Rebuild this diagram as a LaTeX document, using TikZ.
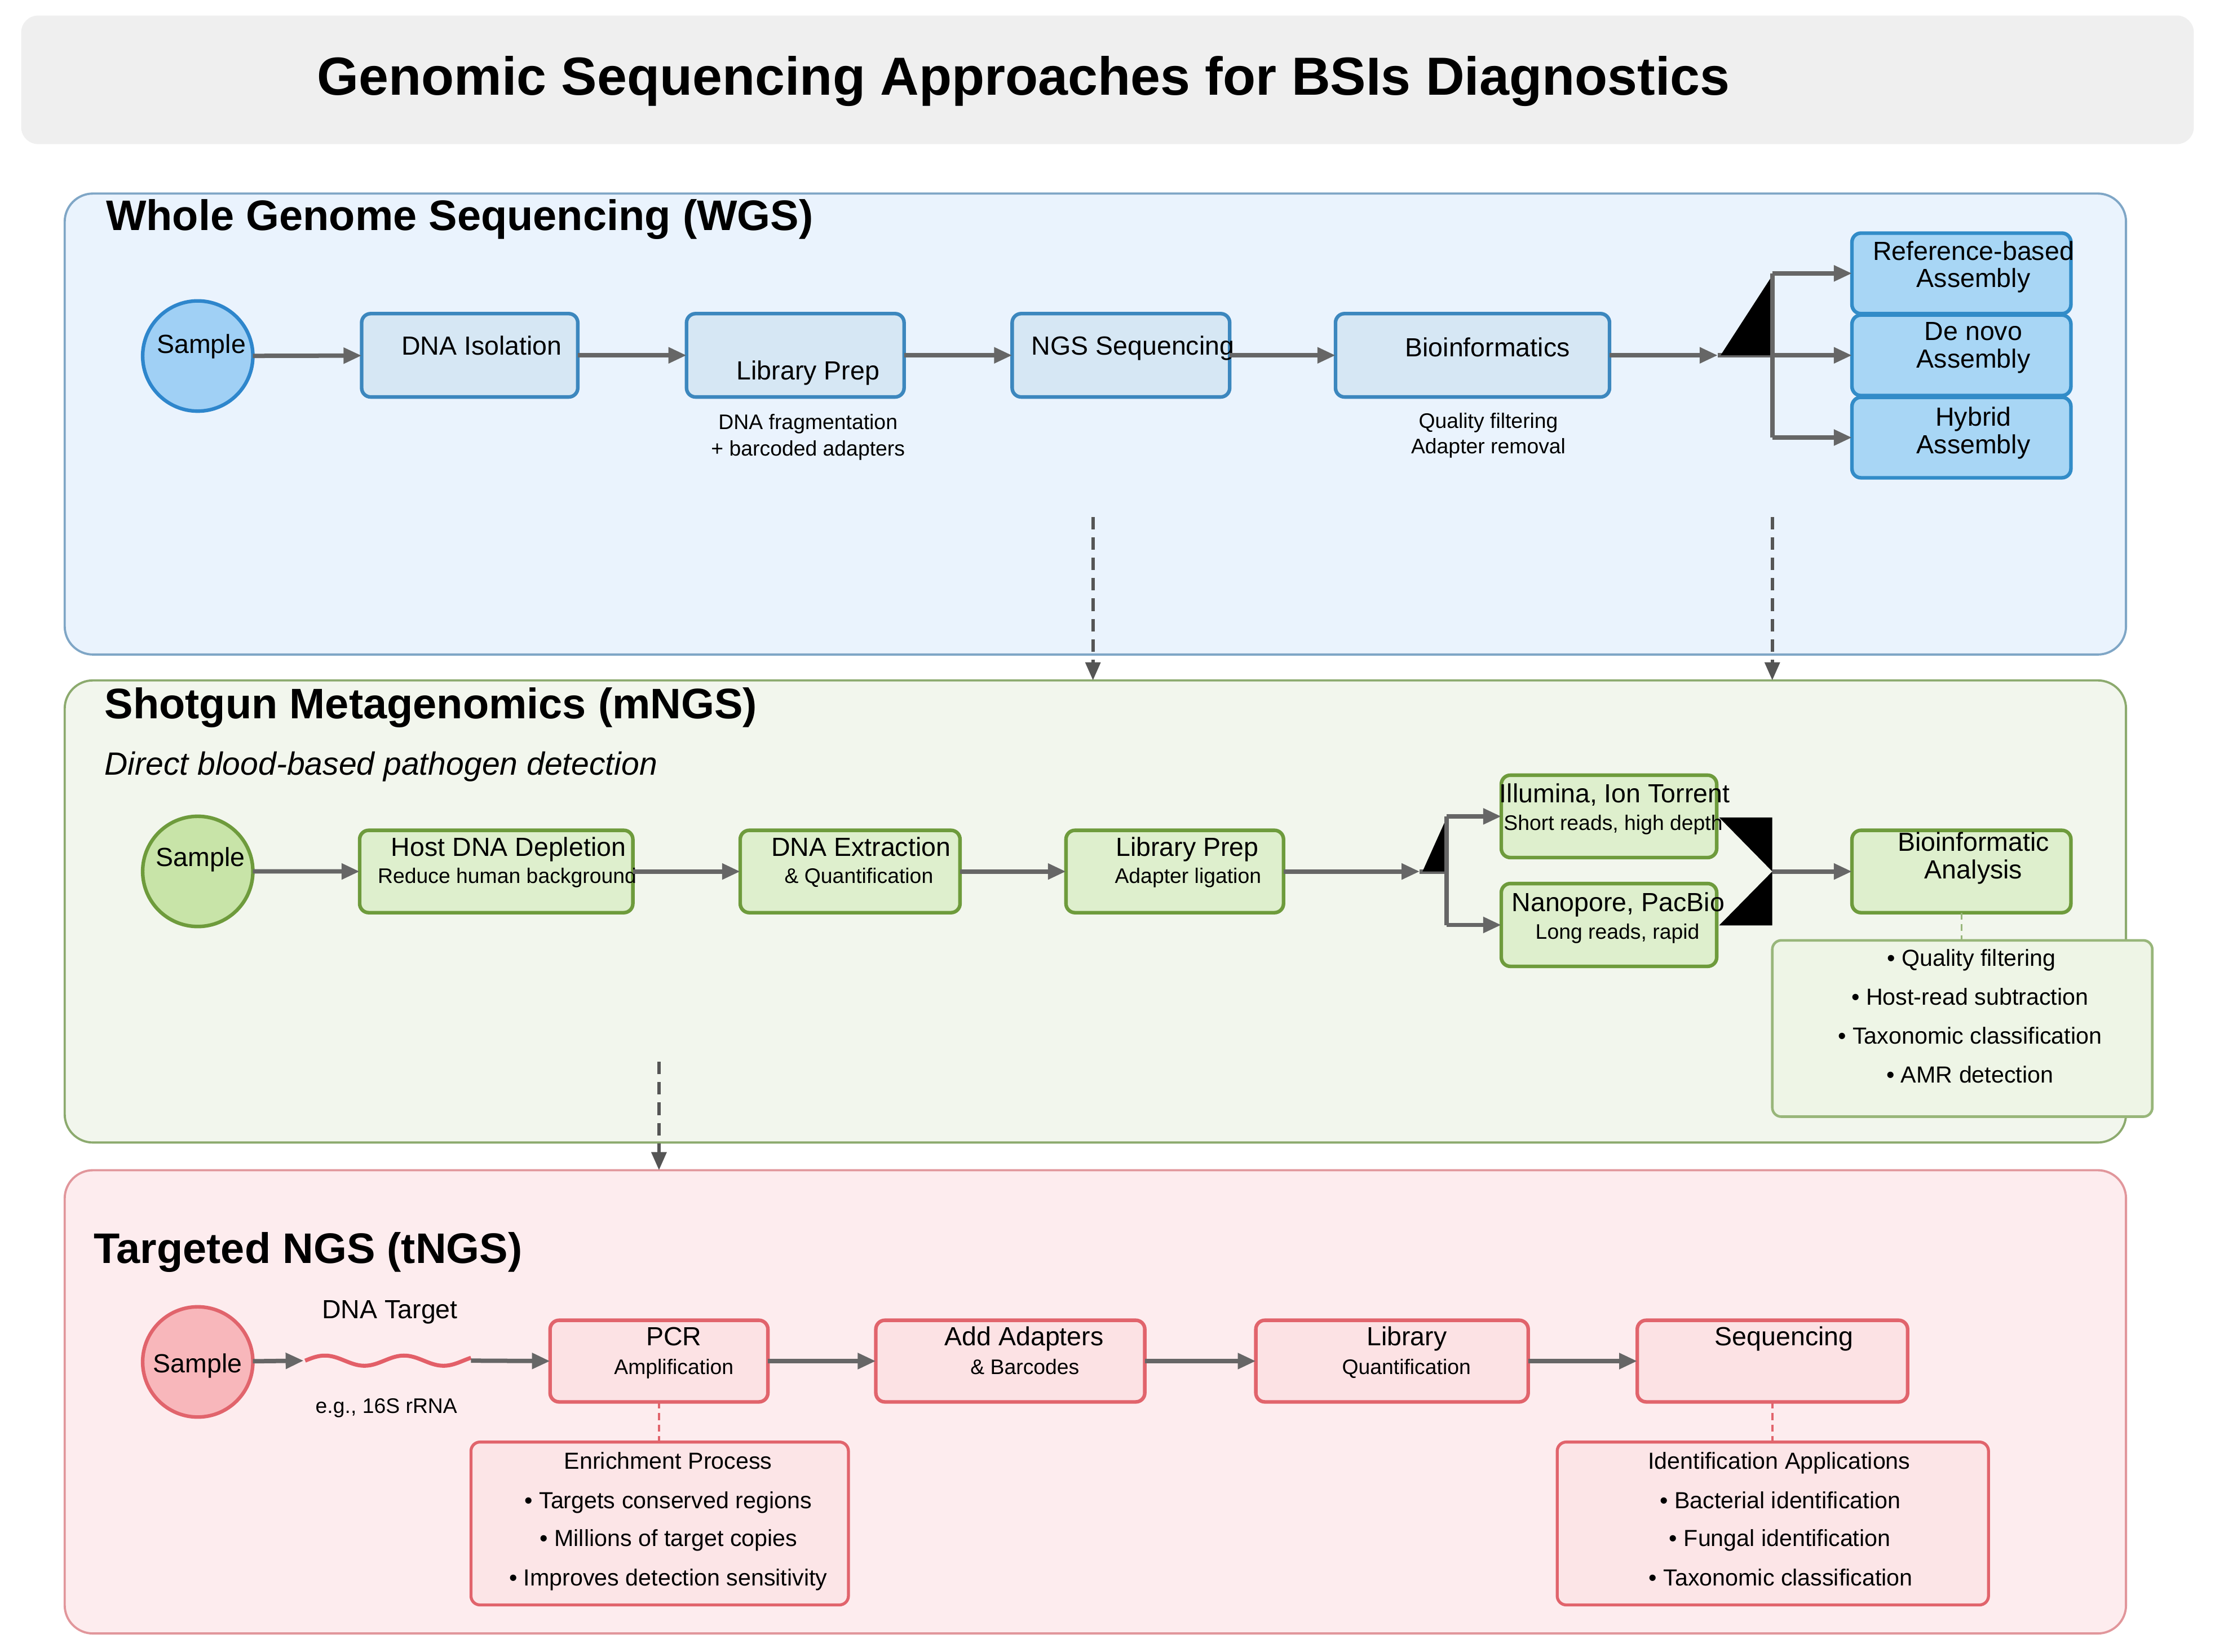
\documentclass[tikz,border=0pt]{standalone}
\usepackage{fontspec}
\setmainfont{Liberation Sans}
\usetikzlibrary{arrows.meta}
\definecolor{tbarfill}{HTML}{EFEFEF}
\definecolor{wgsfill}{HTML}{EAF3FD}
\definecolor{wgsline}{HTML}{7FA6C6}
\definecolor{bboxfill}{HTML}{D6E7F4}
\definecolor{bboxline}{HTML}{3C87BE}
\definecolor{asmfill}{HTML}{A8D6F5}
\definecolor{asmline}{HTML}{328CC8}
\definecolor{bsampfill}{HTML}{A0D0F5}
\definecolor{bsampline}{HTML}{2E86CC}
\definecolor{mngsfill}{HTML}{F2F6ED}
\definecolor{mngsline}{HTML}{8CAA6E}
\definecolor{gboxfill}{HTML}{DEEFCD}
\definecolor{gboxline}{HTML}{6E9B3C}
\definecolor{gsampfill}{HTML}{C8E4A8}
\definecolor{gbulfill}{HTML}{EEF5E6}
\definecolor{gbulline}{HTML}{98B67A}
\definecolor{tngsfill}{HTML}{FDECEE}
\definecolor{tngsline}{HTML}{E1969B}
\definecolor{rboxfill}{HTML}{FCE2E4}
\definecolor{rboxline}{HTML}{E1646C}
\definecolor{rsampfill}{HTML}{F8B7BB}
\definecolor{rinfofill}{HTML}{FCE5E7}
\definecolor{arrgray}{HTML}{666666}
\definecolor{dashgray}{HTML}{555555}
\definecolor{wavered}{HTML}{E35F68}
\tikzset{
  sz/.style 2 args={minimum width=#1*0.025cm, minimum height=#2*0.025cm},
  panel/.style={draw, line width=1.1pt, rounded corners=0.5cm, inner sep=0pt, outer sep=0pt},
  pbox/.style={draw, line width=1.8pt, rounded corners=0.16cm, inner sep=0pt, outer sep=0pt},
  circ/.style={circle, draw, line width=1.8pt, minimum size=1.95cm, inner sep=0pt, outer sep=0pt},
  tmain/.style={anchor=base, inner sep=0pt, font=\fontsize{13.2}{15}\selectfont},
  tsmall/.style={anchor=base, inner sep=0pt, font=\fontsize{10.6}{12}\selectfont},
  tbul/.style={anchor=base, inner sep=0pt, font=\fontsize{11.7}{14}\selectfont},
  ttl/.style={anchor=base west, inner sep=0pt, font=\fontsize{21.5}{26}\selectfont\bfseries},
  arr/.style={draw=arrgray, line width=2.2pt, -{Triangle[length=0.32cm,width=0.27cm]}},
  link/.style={draw=arrgray, line width=2.2pt},
  dasharr/.style={draw=dashgray, line width=1.8pt, dash pattern=on 0.22cm off 0.14cm, -{Triangle[length=0.32cm,width=0.26cm]}},
  thindash/.style={line width=0.9pt, dash pattern=on 0.12cm off 0.08cm},
}
\begin{document}
\begin{tikzpicture}[x=0.025cm,y=-0.025cm]
\path[use as bounding box, fill=white] (0,0) rectangle (1568,1169.3);

% ---------- title ----------
\node[fill=tbarfill, rounded corners=0.3cm, sz={1538}{91}, inner sep=0pt] (tbar) at (784,56.5) {};
\node[anchor=base, inner sep=0pt, font=\fontsize{27}{32}\selectfont\bfseries] (title) at (724.5,67.4) {Genomic Sequencing Approaches for BSIs Diagnostics};

% ---------- panels ----------
\node[panel, fill=wgsfill, draw=wgsline, sz={1459.2}{326.3}] (wgs) at (775.4,300.15) {};
\node[panel, fill=mngsfill, draw=mngsline, sz={1459.2}{327.1}] (mngs) at (775.4,645.15) {};
\node[panel, fill=tngsfill, draw=tngsline, sz={1459.2}{327.9}] (tngs) at (775.4,992.25) {};

\node[ttl] (wgstitle) at (74.8,163) {Whole Genome Sequencing (WGS)};
\node[ttl] (mngstitle) at (73.8,508.6) {Shotgun Metagenomics (mNGS)};
\node[anchor=base west, inner sep=0pt, font=\fontsize{16.2}{19}\selectfont\itshape] (mngssub) at (73.8,548.7) {Direct blood-based pathogen detection};
\node[ttl] (tngstitle) at (66,894) {Targeted NGS (tNGS)};

% ---------- WGS ----------
\node[circ, fill=bsampfill, draw=bsampline] (wsample) at (140,252) {};
\node[pbox, fill=bboxfill, draw=bboxline, sz={153}{59}] (wiso) at (332.5,251.5) {};
\node[pbox, fill=bboxfill, draw=bboxline, sz={154}{59}] (wlib) at (563,251.5) {};
\node[pbox, fill=bboxfill, draw=bboxline, sz={154}{59}] (wngs) at (793.5,251.5) {};
\node[pbox, fill=bboxfill, draw=bboxline, sz={194}{59}] (wbio) at (1042.4,251.5) {};
\node[pbox, fill=asmfill, draw=asmline, sz={155}{57}] (wref) at (1388.5,193.5) {};
\node[pbox, fill=asmfill, draw=asmline, sz={155}{57}] (wdenovo) at (1388.5,251.5) {};
\node[pbox, fill=asmfill, draw=asmline, sz={155}{57}] (whybrid) at (1388.5,309.7) {};

\node[tmain] (wsamplet) at (142.5,250) {Sample};
\node[tmain] (wisot) at (341,251.4) {DNA Isolation};
\node[tmain] (wlibt) at (572,268.6) {Library Prep};
\node[tmain] (wngst) at (802,251.2) {NGS Sequencing};
\node[tmain] (wbiot) at (1053,252.6) {Bioinformatics};
\node[tmain] (wreft1) at (1397,184) {Reference-based};
\node[tmain] (wreft2) at (1397,203.5) {Assembly};
\node[tmain] (wdnt1) at (1397,241) {De novo};
\node[tmain] (wdnt2) at (1397,260.6) {Assembly};
\node[tmain] (whyt1) at (1397,301.7) {Hybrid};
\node[tmain] (whyt2) at (1397,321) {Assembly};
\node[tsmall] (wlibs1) at (572,304) {DNA fragmentation};
\node[tsmall] (wlibs2) at (572,322.5) {+ barcoded adapters};
\node[tsmall] (wbios1) at (1053.6,303) {Quality filtering};
\node[tsmall] (wbios2) at (1053.6,321) {Adapter removal};

\draw[arr] (wsample) -- (wiso);
\draw[arr] (wiso) -- (wlib);
\draw[arr] (wlib) -- (wngs);
\draw[arr] (wngs) -- (wbio);
\coordinate (wj) at (1216,251.5);
\coordinate (wbt) at (1254.6,193.5);
\coordinate (wbm) at (1254.6,251.5);
\coordinate (wbb) at (1254.6,309.7);
\draw[arr] (wbio) -- (wj);
\draw[link] (wj) -- (wbm);
\fill[black] (1218,251.5) -- (1254.6,195) -- (1254.6,251.5) -- cycle;
\draw[link] (wbt) -- (wbb);
\draw[arr] (wbt) -- (wref.west);
\draw[arr] (wbm) -- (wdenovo.west);
\draw[arr] (wbb) -- (whybrid.west);

% ---------- mNGS ----------
\node[circ, fill=gsampfill, draw=gboxline] (msample) at (140,616.8) {};
\node[pbox, fill=gboxfill, draw=gboxline, sz={193.4}{58.3}] (mhost) at (351.3,616.85) {};
\node[pbox, fill=gboxfill, draw=gboxline, sz={155.6}{58.3}] (mext) at (601.8,616.85) {};
\node[pbox, fill=gboxfill, draw=gboxline, sz={154}{58.3}] (mlib) at (831.6,616.85) {};
\node[pbox, fill=gboxfill, draw=gboxline, sz={152.5}{58.3}] (mill) at (1139,577.85) {};
\node[pbox, fill=gboxfill, draw=gboxline, sz={152.5}{58.6}] (mnano) at (1139,654.7) {};
\node[pbox, fill=gboxfill, draw=gboxline, sz={155}{58.3}] (mbio) at (1388.5,616.85) {};
\node[pbox, line width=1.3pt, fill=gbulfill, draw=gbulline, sz={269}{124.8}] (mbul) at (1389.1,728) {};

\node[tmain] (msamplet) at (142,613) {Sample};
\node[tmain] (mhostt1) at (360,606) {Host DNA Depletion};
\node[tsmall] (mhostt2) at (359,625) {Reduce human background};
\node[tmain] (mextt1) at (609.5,606) {DNA Extraction};
\node[tsmall] (mextt2) at (608,625) {\& Quantification};
\node[tmain] (mlibt1) at (840.5,606) {Library Prep};
\node[tsmall] (mlibt2) at (841,625) {Adapter ligation};
\node[tmain] (millt1) at (1143,568) {Illumina, Ion Torrent};
\node[tsmall] (millt2) at (1142,587.7) {Short reads, high depth};
\node[tmain] (mnanot1) at (1145.5,645) {Nanopore, PacBio};
\node[tsmall] (mnanot2) at (1145,664.5) {Long reads, rapid};
\node[tmain] (mbiot1) at (1397,602.6) {Bioinformatic};
\node[tmain] (mbiot2) at (1397,622) {Analysis};
\node[tbul] (mb1) at (1395.6,684) {• Quality filtering};
\node[tbul] (mb2) at (1394.5,711.4) {• Host-read subtraction};
\node[tbul] (mb3) at (1394.5,738.8) {• Taxonomic classification};
\node[tbul] (mb4) at (1394.5,766.4) {• AMR detection};

\draw[arr] (msample) -- (mhost);
\draw[arr] (mhost) -- (mext);
\draw[arr] (mext) -- (mlib);
\coordinate (mj) at (1005,616.85);
\coordinate (mbt) at (1024,577.85);
\coordinate (mbm) at (1024,616.85);
\coordinate (mbb) at (1024,654.7);
\draw[arr] (mlib) -- (mj);
\draw[link] (mj) -- (mbm);
\fill[black] (1007,616.85) -- (1024,579) -- (1024,616.85) -- cycle;
\draw[link] (mbt) -- (mbb);
\draw[arr] (mbt) -- (mill.west);
\draw[arr] (mbb) -- (mnano.west);
\coordinate (mk) at (1254.6,616.85);
\fill[black] (1217,578.6) -- (1254.6,578.6) -- (1254.6,616.85) -- cycle;
\fill[black] (1217,655) -- (1254.6,655) -- (1254.6,616.85) -- cycle;
\draw[arr] (mk) -- (mbio);
\draw[thindash, draw=gbulline] (mbio.south) -- (mbio.south |- mbul.north);

% ---------- tNGS ----------
\node[circ, fill=rsampfill, draw=rboxline] (tsample) at (140,964) {};
\node[pbox, fill=rboxfill, draw=rboxline, sz={154.2}{57.8}] (tpcr) at (466.5,963.4) {};
\node[pbox, fill=rboxfill, draw=rboxline, sz={190.4}{57.8}] (tadd) at (715.2,963.4) {};
\node[pbox, fill=rboxfill, draw=rboxline, sz={192.8}{57.8}] (tlibq) at (985.4,963.4) {};
\node[pbox, fill=rboxfill, draw=rboxline, sz={191.4}{57.8}] (tseq) at (1254.7,963.4) {};
\node[pbox, line width=1.5pt, fill=rinfofill, draw=rboxline, sz={267.2}{115.3}] (tenr) at (467,1078.35) {};
\node[pbox, line width=1.5pt, fill=rinfofill, draw=rboxline, sz={305.3}{115.3}] (tident) at (1255,1078.35) {};

\node[tmain] (tsamplet) at (140,971.4) {Sample};
\node[tmain] (tdnat) at (276,933.4) {DNA Target};
\node[tsmall] (tegt) at (273.5,1000.5) {e.g., 16S rRNA};
\node[tmain] (tpcrt1) at (477,952.4) {PCR};
\node[tsmall] (tpcrt2) at (477,972.6) {Amplification};
\node[tmain] (taddt1) at (725,952.4) {Add Adapters};
\node[tsmall] (taddt2) at (725.5,972.6) {\& Barcodes};
\node[tmain] (tlibt1) at (995.8,952.4) {Library};
\node[tsmall] (tlibt2) at (995.6,972.6) {Quantification};
\node[tmain] (tseqt) at (1263,952.4) {Sequencing};
\node[tbul] (te0) at (473,1039.8) {Enrichment Process};
\node[tbul] (te1) at (473,1067.7) {• Targets conserved regions};
\node[tbul] (te2) at (473.3,1094.6) {• Millions of target copies};
\node[tbul] (te3) at (473,1122.6) {• Improves detection sensitivity};
\node[tbul] (ti0) at (1259.5,1039.8) {Identification Applications};
\node[tbul] (ti1) at (1260.2,1067.7) {• Bacterial identification};
\node[tbul] (ti2) at (1260,1094.6) {• Fungal identification};
\node[tbul] (ti3) at (1260.6,1122.6) {• Taxonomic classification};

\coordinate (wavs) at (215,963.1);
\coordinate (wave) at (333.4,963.1);
\draw[arr] (tsample) -- (wavs);
\draw[wavered, line width=2pt] plot[domain=0:117.4, samples=90, smooth] ({216+\x},{963.1-3.6*sin(6.4286*\x)});
\draw[arr] (wave) -- (tpcr.west);
\draw[arr] (tpcr) -- (tadd);
\draw[arr] (tadd) -- (tlibq);
\draw[arr] (tlibq) -- (tseq);
\draw[thindash, draw=rboxline] (tpcr.south) -- (tpcr.south |- tenr.north);
\draw[thindash, draw=rboxline] (tseq.south) -- (tseq.south |- tident.north);

% ---------- inter-panel dashed arrows ----------
\coordinate (d1s) at (773.7,366);
\coordinate (d1e) at (773.7,481.6);
\coordinate (d2s) at (1254.6,366);
\coordinate (d2e) at (1254.6,481.6);
\coordinate (d3s) at (466.5,751.6);
\coordinate (d3e) at (466.5,828.3);
\draw[dasharr] (d1s) -- (d1e);
\draw[dasharr] (d2s) -- (d2e);
\draw[dasharr] (d3s) -- (d3e);
\end{tikzpicture}
\end{document}
